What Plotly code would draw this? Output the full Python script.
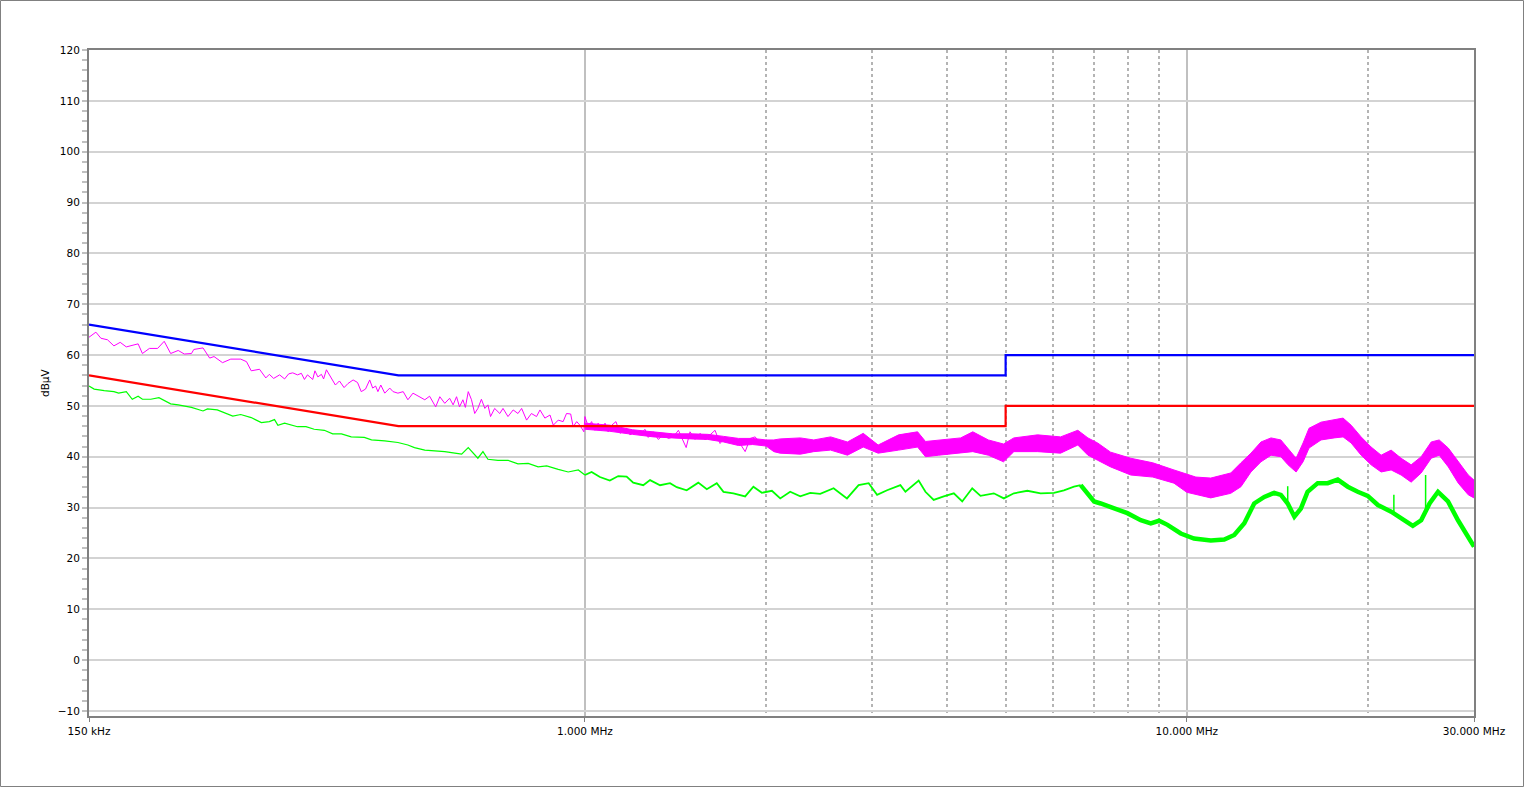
import plotly.graph_objects as go

# ---------------- data ----------------
# Limit lines (MHz, dBuV)
LIMIT_F = [0.15, 0.49, 5.0, 5.0, 30.0]
LIMIT_QP = [66, 56, 56, 60, 60]
LIMIT_AV = [56, 46, 46, 50, 50]

# Peak trace, low-frequency part (drawn as a line)
PK_F = [0.150, 0.154, 0.157, 0.161, 0.165, 0.169, 0.173, 0.181, 0.184, 0.189,
        0.195, 0.200, 0.205, 0.211, 0.216, 0.222, 0.224, 0.232, 0.238, 0.242,
        0.250, 0.258, 0.268, 0.274, 0.279, 0.288, 0.295, 0.299, 0.304, 0.311,
        0.317, 0.322, 0.327, 0.333, 0.338, 0.342, 0.346, 0.353, 0.356, 0.360,
        0.365, 0.368, 0.372, 0.379, 0.385, 0.391, 0.398, 0.404, 0.412, 0.419,
        0.425, 0.432, 0.439, 0.444, 0.449, 0.453, 0.458, 0.465, 0.474, 0.480,
        0.489, 0.499, 0.508, 0.518, 0.531, 0.542, 0.552, 0.565, 0.574, 0.585,
        0.596, 0.604, 0.612, 0.619, 0.627, 0.633, 0.640, 0.648, 0.656, 0.664,
        0.673, 0.682, 0.690, 0.697, 0.708, 0.722, 0.731, 0.745, 0.760, 0.774,
        0.785, 0.800, 0.815, 0.831, 0.842, 0.858, 0.875, 0.886, 0.903, 0.920,
        0.932, 0.947, 0.956, 0.969, 0.981, 0.996, 1.000, 1.013, 1.026, 1.039,
        1.052, 1.066, 1.080, 1.093, 1.108, 1.126, 1.144, 1.173, 1.188, 1.211,
        1.235, 1.258, 1.274, 1.299, 1.324, 1.350, 1.376, 1.403, 1.430, 1.449,
        1.473, 1.495, 1.524, 1.554, 1.584, 1.614, 1.645, 1.677, 1.710, 1.743,
        1.788, 1.846, 1.882, 1.918, 1.955, 2.006, 2.058, 2.111]
PK_DB = [63.5, 64.5, 63.3, 63.0, 61.8, 62.5, 61.6, 62.2, 60.3, 61.3,
         61.3, 62.7, 60.3, 60.9, 60.2, 60.3, 61.1, 61.4, 59.4, 59.7,
         58.5, 59.2, 59.2, 58.7, 56.9, 57.2, 55.5, 56.2, 55.4, 56.1,
         55.3, 56.3, 56.5, 56.1, 56.4, 55.2, 56.1, 55.2, 56.9, 55.7,
         56.2, 55.3, 57.1, 55.4, 54.1, 54.9, 53.6, 54.4, 55.1, 54.6,
         52.8, 53.3, 55.1, 53.5, 53.9, 52.8, 54.1, 52.5, 53.5, 52.8,
         52.5, 52.8, 51.2, 52.5, 51.8, 51.2, 51.9, 49.8, 51.8, 50.5,
         51.5, 50.2, 51.8, 49.8, 51.2, 49.7, 52.8, 51.2, 48.5, 49.5,
         51.3, 49.5, 50.2, 47.9, 49.5, 48.5, 49.5, 47.9, 49.2, 48.5,
         49.5, 47.2, 48.5, 47.9, 49.2, 47.6, 48.2, 46.2, 47.2, 46.9,
         48.5, 48.4, 45.9, 46.9, 46.2, 44.9, 47.9, 45.9, 46.9, 45.2,
         46.6, 45.1, 46.6, 44.9, 46.2, 46.9, 44.6, 45.6, 44.3, 44.9,
         44.3, 45.4, 43.8, 44.9, 43.4, 44.3, 43.6, 43.9, 45.2, 43.6,
         41.8, 44.9, 43.4, 44.6, 43.3, 44.3, 45.2, 42.6, 43.9, 42.9,
         43.6, 41.0, 43.6, 43.9, 42.6, 43.3, 42.0, 42.6]

# Peak trace, dense part (upper / lower envelope of the noise)
PKB_F = [1.00, 1.10, 1.20, 1.30, 1.40, 1.50, 1.60, 1.70, 1.80, 1.90,
         2.00, 2.06, 2.11, 2.28, 2.40, 2.56, 2.73, 2.90, 3.07, 3.32, 3.57,
         3.68, 3.87, 4.21, 4.41, 4.68, 4.96, 5.16, 5.65, 6.17, 6.59,
         6.85, 7.11, 7.47, 8.07, 8.78, 9.52, 10.0, 10.35, 10.96, 11.83,
         12.30, 12.78, 13.28, 13.80, 14.33, 14.73, 15.19, 15.60, 15.96, 16.71,
         17.57, 18.18, 18.75, 19.48, 20.24, 21.03, 21.85, 22.70, 23.59, 24.51,
         25.47, 26.26, 27.19, 28.25, 29.35, 30.0]
PKB_HI = [46.6, 46.2, 45.3, 44.9, 44.5, 44.5, 44.4, 44.0, 43.6, 43.6,
          43.3, 43.3, 43.5, 43.7, 43.3, 43.9, 42.9, 44.6, 42.3, 44.3, 44.9,
          43.0, 43.3, 43.7, 44.9, 43.3, 42.5, 43.7, 44.3, 43.9, 45.2,
          43.7, 42.7, 40.9, 39.7, 38.8, 37.4, 36.5, 36.0, 35.8, 36.8,
          38.8, 40.7, 42.9, 43.7, 43.3, 41.7, 39.7, 42.7, 45.6, 46.8,
          47.2, 47.6, 46.2, 43.9, 41.9, 40.3, 41.3, 39.7, 38.4, 40.0,
          42.9, 43.3, 41.7, 39.0, 36.4, 35.4]
PKB_LO = [45.4, 45.0, 44.4, 43.9, 43.7, 43.5, 43.4, 42.9, 42.2, 42.4,
          42.1, 41.0, 40.7, 40.5, 41.0, 41.3, 40.3, 41.9, 40.7, 41.3, 41.9,
          40.0, 40.3, 40.7, 41.0, 40.3, 39.0, 41.0, 41.0, 40.7, 42.3,
          40.3, 39.3, 38.0, 36.4, 36.0, 34.8, 33.0, 32.5, 31.9, 32.8,
          34.1, 37.0, 39.0, 40.3, 40.0, 38.4, 37.0, 39.0, 41.7, 43.3,
          43.7, 43.9, 42.7, 40.3, 38.4, 37.0, 37.4, 36.4, 35.0, 36.8,
          39.7, 40.3, 38.0, 34.8, 32.5, 31.9]

# Average trace
AV_F = [0.150, 0.153, 0.159, 0.165, 0.168, 0.173, 0.177, 0.181, 0.184, 0.190,
        0.196, 0.205, 0.211, 0.222, 0.232, 0.236, 0.245, 0.260, 0.268, 0.279,
        0.290, 0.299, 0.305, 0.309, 0.317, 0.333, 0.344, 0.355, 0.369, 0.381,
        0.394, 0.409, 0.430, 0.442, 0.465, 0.489, 0.508, 0.521, 0.542, 0.563,
        0.585, 0.608, 0.624, 0.640, 0.652, 0.664, 0.677, 0.690, 0.717, 0.745,
        0.774, 0.805, 0.836, 0.864, 0.903, 0.938, 0.975, 1.000, 1.026, 1.059,
        1.100, 1.136, 1.173, 1.203, 1.250, 1.283, 1.333, 1.385, 1.421, 1.476,
        1.543, 1.594, 1.656, 1.699, 1.765, 1.846, 1.905, 1.968, 2.045, 2.111,
        2.193, 2.279, 2.368, 2.460, 2.589, 2.725, 2.849, 2.961, 3.058, 3.177,
        3.343, 3.408, 3.585, 3.679, 3.797, 3.946, 4.101, 4.235, 4.400, 4.542,
        4.779, 4.966, 5.161, 5.432, 5.716, 6.015, 6.249, 6.494, 6.663, 6.837,
        7.013, 7.193, 7.568, 7.966, 8.385, 8.711, 8.993, 9.288, 9.772, 10.28,
        10.96, 11.54, 11.99, 12.46, 12.94, 13.45, 13.97, 14.33, 14.71, 15.09,
        15.47, 15.87, 16.50, 17.14, 17.81, 18.51, 19.23, 19.98, 20.77, 21.85,
        22.99, 23.74, 24.51, 25.31, 26.14, 27.16, 28.22, 29.32, 30.0]
AV_DB = [53.9, 53.3, 53.0, 52.8, 52.5, 52.8, 51.3, 51.9, 51.3, 51.3,
         51.6, 50.4, 50.2, 49.7, 49.0, 49.4, 49.2, 48.0, 48.3, 47.7,
         46.7, 46.9, 47.3, 46.2, 46.6, 45.9, 45.9, 45.4, 45.2, 44.5,
         44.5, 43.9, 43.8, 43.3, 43.1, 42.8, 42.3, 41.8, 41.3, 41.2,
         41.0, 40.7, 40.5, 41.8, 40.7, 39.7, 41.0, 39.5, 39.3, 39.3,
         38.6, 38.7, 38.0, 38.2, 37.5, 37.0, 37.4, 36.4, 37.0, 36.0,
         35.3, 36.2, 36.1, 34.9, 34.4, 35.4, 34.4, 34.8, 34.0, 33.4,
         34.9, 33.6, 34.8, 33.1, 32.8, 32.2, 34.1, 32.9, 33.3, 31.8,
         33.1, 32.2, 32.9, 32.7, 33.8, 31.8, 34.4, 34.8, 32.5, 33.4,
         34.4, 33.1, 35.3, 33.1, 31.5, 32.2, 32.8, 31.2, 33.8, 32.3,
         32.8, 31.8, 32.8, 33.3, 32.8, 32.9, 33.4, 34.1, 34.4, 32.8,
         31.2, 30.8, 29.8, 28.9, 27.5, 26.9, 27.4, 26.6, 24.9, 23.9,
         23.5, 23.7, 24.6, 26.9, 30.8, 32.1, 32.9, 32.5, 30.8, 28.2,
         29.8, 33.1, 34.8, 34.8, 35.5, 34.1, 33.1, 32.3, 30.5, 29.2,
         27.5, 26.4, 27.5, 30.8, 33.1, 31.2, 27.5, 24.3, 22.3]

# Narrow spikes on the average trace
AV_SPIKE_F = [14.71, 22.08, 24.93]
AV_SPIKE_BASE = [30.8, 29.0, 29.5]
AV_SPIKE_TOP = [34.2, 32.5, 36.4]

# Axis ticks
X_TICKS = [0.15, 1, 10, 30]
X_TICKTEXT = ["150 kHz", "1.000 MHz", "10.000 MHz", "30.000 MHz"]
X_MINOR = [2, 3, 4, 5, 6, 7, 8, 9, 20]
Y_TICKS = list(range(-10, 121, 10))

# ---------------- figure ----------------
BLUE, RED, MAG, GRN = "#0000FF", "#FF0000", "#FF00FF", "#00FF00"
FONT = dict(family="DejaVu Sans, Verdana, sans-serif", size=10.5, color="#000000")

fig = go.Figure()

# peak band
fig.add_trace(go.Scatter(x=PKB_F + PKB_F[::-1], y=PKB_HI + PKB_LO[::-1],
                         mode="lines", fill="toself", fillcolor=MAG,
                         line=dict(color=MAG, width=1), hoverinfo="skip"))
# peak line
fig.add_trace(go.Scatter(x=PK_F, y=PK_DB, mode="lines",
                         line=dict(color=MAG, width=1)))

# average trace in segments of increasing thickness
segs = [(0.0, 1.0, 1.2), (1.0, 6.663, 1.8), (6.663, 31.0, 4.5)]
for lo, hi, w in segs:
    xs = [f for f in AV_F if lo <= f <= hi]
    ys = [d for f, d in zip(AV_F, AV_DB) if lo <= f <= hi]
    fig.add_trace(go.Scatter(x=xs, y=ys, mode="lines",
                             line=dict(color=GRN, width=w)))
sx, sy = [], []
for f, b, t in zip(AV_SPIKE_F, AV_SPIKE_BASE, AV_SPIKE_TOP):
    sx += [f, f, None]
    sy += [b, t, None]
fig.add_trace(go.Scatter(x=sx, y=sy, mode="lines", line=dict(color=GRN, width=1.5)))

# limits
fig.add_trace(go.Scatter(x=LIMIT_F, y=LIMIT_QP, mode="lines", line=dict(color=BLUE, width=2.2)))
fig.add_trace(go.Scatter(x=LIMIT_F, y=LIMIT_AV, mode="lines", line=dict(color=RED, width=2.2)))

W, H = 1524, 787
ML, MR, MT, MB = 89, 50, 50, 71
pw, ph = W - ML - MR, H - MT - MB

fig.update_layout(
    width=W, height=H, autosize=False,
    margin=dict(l=ML, r=MR, t=MT, b=MB, pad=0),
    paper_bgcolor="#FFFFFF", plot_bgcolor="#FFFFFF",
    showlegend=False, font=FONT,
    xaxis=dict(type="log", range=[-0.82391, 1.47712],
               tickmode="array", tickvals=X_TICKS, ticktext=X_TICKTEXT,
               showgrid=True, gridcolor="#C0C0C0", gridwidth=2,
               ticks="outside", ticklen=4, tickcolor="#808080", tickwidth=1,
               showline=True, linecolor="#808080", linewidth=2, mirror=True,
               zeroline=False, tickfont=FONT,
               minor=dict(tickmode="array", tickvals=X_MINOR, showgrid=True,
                          griddash="dot", gridcolor="#B4B4B4", gridwidth=1.5,
                          ticks="")),
    yaxis=dict(range=[-11, 120], tickmode="array", tickvals=Y_TICKS,
               showgrid=True, gridcolor="#D3D3D3", gridwidth=2,
               ticks="outside", ticklen=5, tickcolor="#C0C0C0", tickwidth=2,
               showline=True, linecolor="#808080", linewidth=2, mirror=True,
               zeroline=False, tickfont=FONT,
               minor=dict(dtick=2, ticks="outside", ticklen=5,
                          tickcolor="#C0C0C0", tickwidth=2, showgrid=False)),
    annotations=[dict(text="dBµV", xref="paper", yref="paper",
                      x=(45 - ML) / pw, y=0.5, xanchor="center", yanchor="middle",
                      textangle=-90, showarrow=False, font=FONT)],
    shapes=[dict(type="rect", xref="paper", yref="paper",
                 x0=(0.5 - ML) / pw, x1=(W - 0.5 - ML) / pw,
                 y0=-(MB - 0.5) / ph, y1=(H - MB - 0.5) / ph,
                 line=dict(color="#808080", width=1), layer="below")],
)

fig.write_html("out.html", config={"displayModeBar": False},
               post_script="document.body.style.margin='0';document.body.style.overflow='hidden';")
